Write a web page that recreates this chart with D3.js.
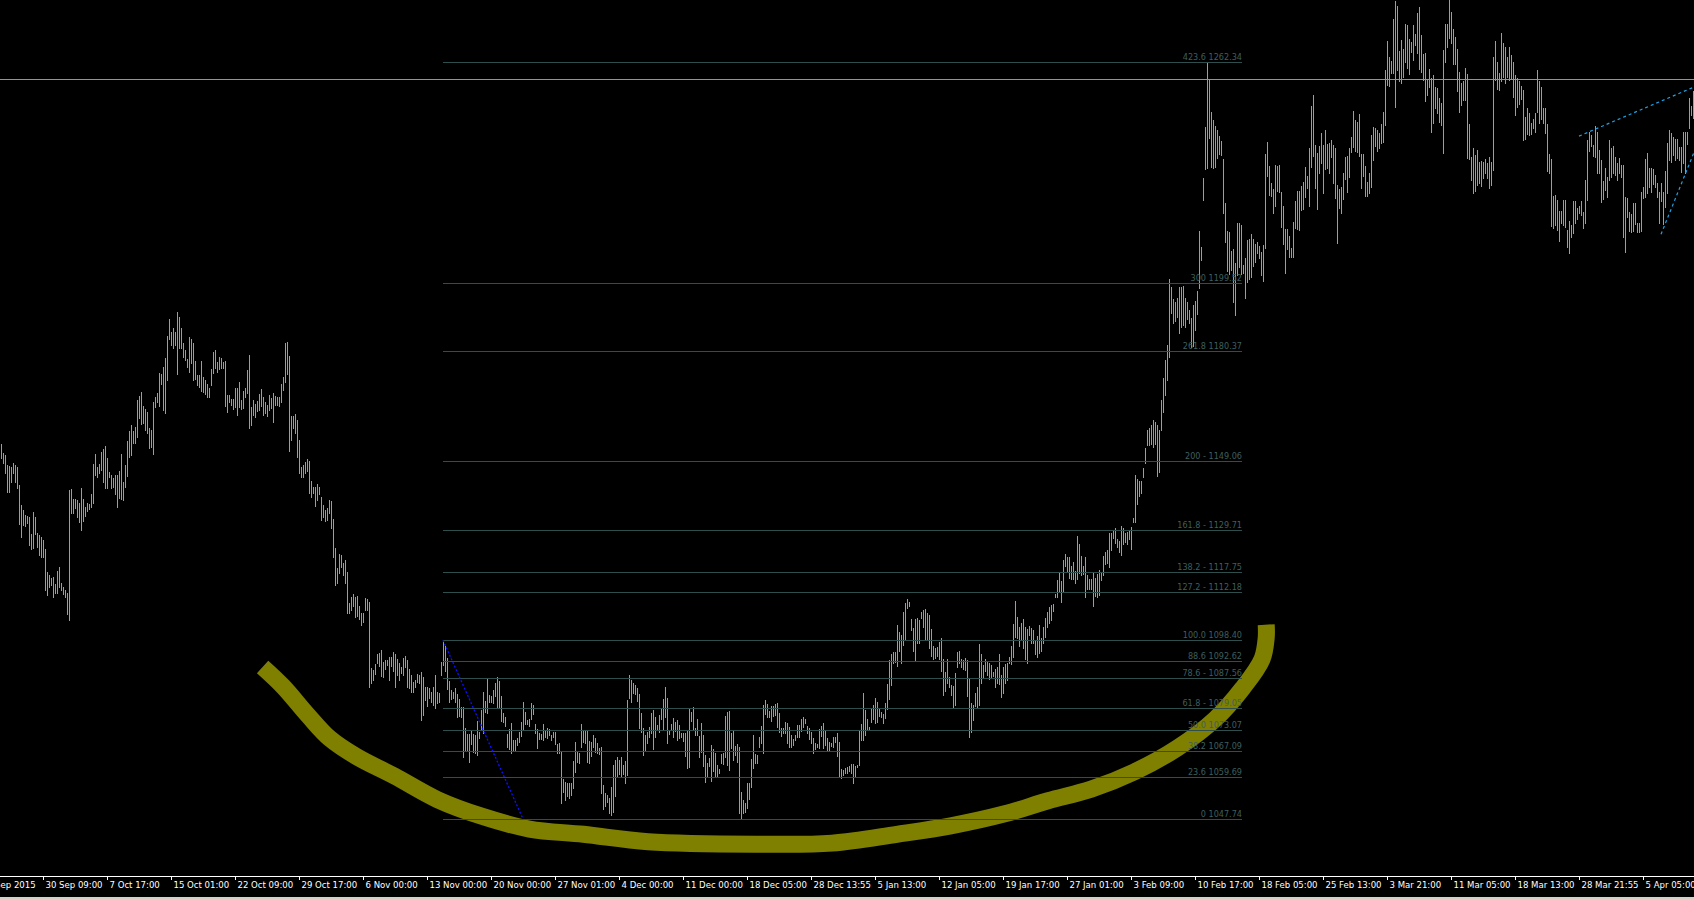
<!DOCTYPE html>
<html>
<head>
<meta charset="utf-8">
<script src="https://cdn.jsdelivr.net/npm/d3@7"></script>
<style>
  body { margin: 0; background: #000; overflow: hidden; }
  svg { display: block; }
</style>
</head>
<body>
<svg id="chart"></svg>
<script>
// H4 bars, one high/low pair per bar
const highs = [
  1153.9,1151.4,1150.8,1148.0,1147.7,1147.4,1148.5,1148.0,1147.4,1142.3,
  1136.6,1135.2,1133.8,1133.5,1133.2,1128.4,1134.6,1133.2,1128.9,1128.1,
  1127.5,1126.7,1124.2,1117.6,1116.8,1115.9,1116.2,1114.2,1117.9,1119.0,
  1114.5,1113.6,1112.5,1111.9,1140.9,1141.1,1138.3,1138.3,1138.0,1137.2,
  1141.4,1138.3,1136.0,1137.4,1136.9,1139.7,1148.2,1151.1,1147.4,1148.2,
  1151.6,1152.7,1153.3,1149.9,1146.0,1145.1,1144.3,1145.1,1145.1,1146.2,
  1151.1,1143.1,1148.0,1154.7,1157.6,1159.3,1157.6,1158.7,1166.4,1167.5,
  1168.6,1164.7,1163.8,1163.0,1158.4,1157.9,1165.8,1167.2,1168.3,1174.0,
  1173.7,1175.7,1178.3,1184.5,1189.3,1185.6,1186.8,1185.6,1191.3,1189.9,
  1186.8,1182.5,1180.5,1178.0,1184.2,1183.7,1182.5,1177.4,1173.4,1173.4,
  1177.4,1172.9,1172.0,1170.9,1169.8,1175.1,1180.0,1180.5,1177.1,1178.6,
  1178.3,1177.1,1177.4,1167.8,1167.8,1166.7,1166.7,1169.8,1169.8,1171.5,
  1166.4,1168.9,1169.8,1174.9,1179.1,1164.4,1166.4,1165.2,1166.1,1168.1,
  1169.5,1167.2,1165.8,1164.9,1167.8,1167.0,1168.4,1167.5,1167.2,1167.2,
  1170.9,1172.9,1182.5,1182.8,1178.8,1161.8,1161.8,1162.4,1160.7,1155.0,
  1147.4,1148.0,1148.8,1149.6,1149.1,1143.4,1141.7,1141.7,1142.6,1141.7,
  1138.9,1136.6,1135.2,1135.8,1138.0,1137.7,1132.6,1124.4,1118.8,1122.7,
  1122.5,1120.2,1121.0,1117.6,1108.9,1110.5,1111.4,1110.5,1110.8,1108.0,
  1106.0,1106.0,1110.3,1110.0,1109.1,1090.4,1089.9,1091.6,1094.4,1094.7,
  1095.5,1092.1,1092.7,1092.7,1093.6,1093.6,1095.0,1094.4,1093.0,1091.9,
  1090.7,1093.3,1093.8,1092.7,1090.2,1088.5,1086.5,1087.0,1088.7,1088.5,
  1089.3,1087.9,1085.1,1085.1,1084.8,1083.6,1085.1,1088.5,1083.6,1083.4,
  1092.1,1098.4,1096.7,1093.3,1086.8,1084.2,1083.6,1084.8,1083.1,1081.7,
  1079.4,1079.4,1073.4,1071.7,1071.7,1072.6,1071.7,1071.5,1075.4,1072.3,
  1078.5,1083.6,1081.1,1087.3,1082.8,1082.5,1084.2,1086.2,1087.9,1086.8,
  1082.5,1077.7,1076.6,1071.7,1073.2,1074.9,1070.0,1070.0,1070.6,1072.3,
  1075.1,1080.8,1078.0,1075.7,1076.0,1080.5,1080.0,1074.6,1073.2,1072.0,
  1071.7,1074.6,1072.9,1073.4,1073.2,1071.5,1072.3,1072.3,1068.9,1069.2,
  1066.6,1059.0,1058.1,1057.9,1057.9,1057.9,1064.1,1069.5,1066.6,1066.4,
  1074.6,1072.6,1072.9,1072.6,1069.8,1069.5,1071.5,1070.6,1069.2,1067.8,
  1068.1,1057.3,1055.0,1054.5,1053.6,1056.7,1062.9,1064.4,1065.2,1064.4,
  1065.2,1062.9,1064.1,1081.4,1088.5,1087.0,1086.2,1085.6,1084.8,1083.1,
  1077.7,1073.4,1071.5,1072.3,1073.7,1077.7,1078.5,1076.6,1074.3,1077.1,
  1078.8,1081.7,1085.1,1081.9,1072.9,1074.6,1076.3,1075.1,1075.7,1074.3,
  1072.0,1072.0,1072.0,1072.9,1079.1,1078.0,1079.4,1073.4,1076.0,1071.2,
  1074.9,1071.5,1065.8,1063.5,1064.9,1068.6,1067.5,1066.4,1062.9,1061.8,
  1066.1,1066.4,1076.8,1078.0,1078.3,1072.0,1072.6,1068.4,1068.9,1068.1,
  1055.3,1053.0,1052.2,1057.9,1057.9,1064.6,1071.5,1066.1,1065.8,1070.9,
  1074.0,1080.0,1081.4,1080.2,1078.3,1079.7,1079.7,1080.2,1080.5,1077.7,
  1073.4,1073.4,1075.1,1074.9,1073.7,1071.5,1070.3,1071.5,1074.3,1074.3,
  1076.0,1076.6,1076.0,1074.0,1073.4,1072.3,1070.6,1069.2,1068.9,1073.2,
  1074.0,1074.9,1072.9,1070.6,1069.5,1069.2,1070.9,1070.9,1072.0,1069.5,
  1061.8,1061.5,1062.1,1062.4,1062.7,1063.2,1063.2,1062.7,1062.9,1072.9,
  1074.6,1083.3,1078.5,1076.0,1073.7,1078.8,1080.0,1081.9,1080.8,1078.8,
  1078.0,1077.4,1080.5,1085.9,1092.7,1094.4,1095.0,1095.0,1102.6,1100.6,
  1099.8,1106.3,1108.9,1110.0,1109.1,1104.3,1101.8,1104.3,1104.6,1104.0,
  1106.3,1106.9,1107.2,1106.0,1105.5,1101.5,1096.7,1096.1,1096.4,1097.8,
  1098.9,1093.0,1089.3,1093.0,1087.9,1085.6,1085.3,1089.0,1095.0,1095.3,
  1093.0,1092.7,1093.3,1092.7,1087.6,1080.5,1080.0,1083.4,1085.1,1097.2,
  1094.4,1091.3,1093.0,1092.1,1091.9,1091.3,1089.3,1090.2,1090.7,1094.4,
  1088.5,1090.7,1091.6,1091.9,1093.6,1096.7,1102.9,1109.4,1104.9,1102.1,
  1103.2,1104.3,1102.1,1101.5,1102.4,1101.8,1101.2,1098.4,1099.5,1102.6,
  1099.0,1102.1,1104.6,1106.3,1107.7,1108.3,1108.6,1111.4,1115.4,1117.3,
  1115.1,1121.0,1122.7,1121.9,1121.9,1119.3,1120.5,1117.9,1127.8,1125.6,
  1122.2,1119.3,1121.9,1116.8,1115.6,1115.6,1117.6,1116.0,1117.1,1118.2,
  1117.6,1122.2,1123.3,1123.9,1128.7,1128.7,1129.3,1130.1,1127.0,1126.4,
  1130.7,1130.1,1128.7,1129.0,1129.3,1130.4,1132.9,1145.1,1144.0,1143.4,
  1143.4,1147.1,1152.8,1157.9,1158.4,1159.3,1160.7,1160.1,1159.3,1157.9,
  1166.4,1172.6,1177.7,1182.0,1200.7,1198.4,1195.0,1194.1,1195.3,1198.4,
  1198.4,1198.7,1195.3,1194.1,1191.9,1189.6,1193.3,1194.4,1197.3,1214.3,
  1209.7,1229.3,1243.7,1262.3,1257.3,1248.0,1245.7,1244.0,1242.9,1241.2,
  1239.7,1234.7,1222.2,1214.3,1214.0,1208.6,1209.1,1205.2,1216.5,1216.5,
  1215.9,1204.6,1206.6,1211.7,1212.0,1213.4,1212.0,1210.6,1211.1,1210.0,
  1208.3,1210.3,1236.1,1239.5,1232.7,1227.9,1226.2,1233.0,1232.7,1233.0,
  1225.3,1221.3,1214.8,1214.8,1212.8,1209.4,1216.8,1222.8,1225.6,1225.6,
  1227.0,1228.1,1232.4,1229.8,1237.8,1249.7,1252.8,1238.6,1236.4,1238.3,
  1242.0,1238.6,1242.9,1238.9,1239.2,1240.0,1238.6,1237.8,1227.3,1226.1,
  1226.7,1230.7,1235.2,1235.5,1237.8,1240.9,1248.3,1245.7,1245.1,1247.4,
  1236.1,1236.1,1232.7,1228.1,1230.7,1241.5,1243.7,1243.4,1242.9,1242.0,
  1244.6,1248.0,1259.9,1268.1,1263.5,1262.4,1274.3,1279.4,1278.0,1265.2,
  1268.4,1265.8,1272.9,1272.6,1268.6,1267.8,1272.6,1270.1,1276.0,1277.7,
  1269.8,1264.4,1264.7,1257.3,1260.1,1257.6,1258.4,1255.0,1254.8,1251.9,
  1250.5,1265.5,1272.9,1272.9,1281.0,1276.3,1271.5,1269.2,1265.8,1259.3,
  1256.2,1256.8,1260.4,1258.7,1244.6,1235.2,1237.8,1235.8,1237.2,1233.8,
  1234.1,1233.8,1234.7,1233.5,1235.2,1233.8,1263.5,1268.1,1262.1,1259.0,
  1270.3,1267.5,1266.4,1263.5,1266.4,1264.1,1262.1,1258.4,1257.6,1256.8,
  1255.3,1254.2,1246.5,1249.1,1247.7,1244.8,1246.0,1247.7,1259.9,1256.8,
  1255.0,1249.1,1249.1,1244.6,1236.1,1234.7,1224.2,1224.5,1223.0,1219.9,
  1219.9,1223.0,1223.0,1214.5,1217.1,1215.9,1222.8,1222.8,1220.8,1221.3,
  1222.8,1219.6,1228.7,1240.0,1242.3,1241.5,1238.6,1244.0,1242.3,1237.2,
  1234.4,1228.4,1232.1,1229.6,1240.0,1237.8,1238.3,1235.2,1233.5,1234.9,
  1232.9,1232.9,1223.9,1223.6,1219.6,1219.1,1222.2,1222.2,1216.5,1216.5,
  1225.3,1226.7,1234.7,1236.4,1232.1,1232.1,1231.8,1230.1,1227.9,1225.3,
  1227.9,1225.3,1231.2,1239.2,1242.9,1242.0,1240.9,1240.3,1240.3,1238.1,
  1238.1,1242.3,1242.3,1242.3,1251.9,1249.7,1253.9
];

const lows = [
  1149.9,1148.5,1145.7,1140.3,1140.3,1143.1,1145.7,1143.1,1141.4,1131.3,
  1127.5,1130.9,1130.7,1131.5,1125.3,1124.2,1124.5,1128.6,1124.7,1122.5,
  1121.9,1121.9,1112.5,1111.1,1113.6,1113.9,1110.5,1111.7,1111.9,1113.4,
  1112.5,1111.4,1110.5,1105.8,1104.0,1134.3,1134.3,1135.8,1133.2,1131.8,
  1129.5,1132.1,1133.5,1134.9,1135.5,1136.0,1137.2,1145.1,1144.5,1145.7,
  1146.5,1143.1,1141.4,1141.4,1144.5,1141.4,1141.7,1139.7,1136.0,1138.6,
  1138.3,1138.0,1141.7,1144.8,1150.2,1150.8,1154.2,1154.2,1155.9,1161.3,
  1159.6,1159.9,1157.9,1157.0,1152.8,1153.0,1151.1,1164.4,1165.8,1164.7,
  1170.9,1163.5,1162.7,1172.0,1183.7,1182.0,1181.1,1182.0,1173.7,1181.1,
  1181.1,1178.6,1177.7,1175.7,1174.3,1176.8,1172.0,1172.3,1170.6,1170.0,
  1168.9,1168.6,1168.1,1167.2,1167.2,1170.6,1174.0,1175.4,1174.3,1175.1,
  1175.4,1175.4,1164.7,1163.0,1165.8,1165.0,1163.8,1164.4,1162.1,1164.4,
  1163.8,1164.1,1167.2,1168.3,1158.4,1159.3,1162.1,1161.5,1163.3,1163.5,
  1164.7,1162.1,1162.7,1161.8,1163.5,1164.1,1160.1,1165.0,1165.0,1164.7,
  1165.8,1169.2,1171.5,1173.7,1151.9,1155.0,1158.4,1157.0,1150.2,1145.7,
  1144.5,1144.5,1145.7,1146.2,1140.0,1138.9,1140.0,1136.3,1138.0,1139.7,
  1132.4,1133.2,1132.1,1132.4,1134.3,1130.1,1122.1,1113.9,1114.5,1117.3,
  1119.1,1116.8,1114.5,1106.0,1106.0,1106.9,1108.0,1104.9,1105.2,1104.3,
  1102.6,1103.5,1106.9,1106.9,1085.1,1086.2,1087.0,1088.7,1091.9,1091.0,
  1088.2,1087.9,1090.1,1091.3,1087.0,1091.0,1089.6,1085.1,1088.5,1087.0,
  1089.0,1088.5,1090.7,1085.1,1084.8,1083.6,1083.6,1085.1,1086.5,1086.2,
  1075.7,1077.1,1081.4,1079.7,1082.0,1080.8,1080.0,1079.1,1080.5,1080.8,
  1088.5,1091.3,1089.6,1084.5,1080.8,1081.7,1082.0,1080.8,1076.6,1076.8,
  1076.6,1065.2,1067.2,1067.2,1063.8,1068.9,1066.6,1066.4,1065.8,1070.6,
  1072.9,1072.0,1078.0,1077.7,1080.8,1080.8,1080.5,1082.5,1079.1,1079.4,
  1075.4,1075.1,1074.0,1068.1,1067.5,1066.4,1066.9,1066.9,1068.6,1069.5,
  1071.2,1072.9,1074.6,1074.6,1074.0,1076.0,1077.4,1072.0,1067.8,1070.3,
  1070.3,1070.0,1070.9,1070.6,1071.5,1070.0,1070.9,1068.9,1066.4,1066.4,
  1052.2,1055.3,1053.0,1054.2,1053.6,1054.5,1056.4,1061.0,1063.8,1063.5,
  1068.1,1069.5,1069.2,1063.8,1063.5,1065.5,1068.1,1066.6,1066.4,1066.1,
  1055.0,1050.5,1051.3,1052.5,1049.4,1048.8,1049.6,1054.2,1059.6,1060.4,
  1059.6,1060.4,1057.9,1060.1,1081.9,1080.8,1083.4,1083.1,1081.1,1073.4,
  1072.3,1065.8,1066.9,1069.2,1070.9,1072.0,1067.5,1070.9,1073.2,1072.3,
  1076.0,1072.9,1076.6,1069.2,1071.7,1072.9,1070.9,1072.6,1070.0,1070.6,
  1070.9,1069.8,1065.5,1062.1,1062.4,1075.4,1073.2,1071.5,1071.5,1065.2,
  1066.6,1062.7,1058.1,1059.6,1062.7,1058.4,1061.3,1059.6,1059.6,1060.7,
  1063.5,1063.2,1065.2,1062.9,1061.5,1067.8,1064.4,1065.8,1063.8,1049.4,
  1048.0,1049.4,1049.6,1050.8,1053.3,1056.7,1062.1,1063.5,1063.5,1068.1,
  1069.2,1066.4,1077.4,1076.6,1076.6,1075.4,1076.8,1077.1,1073.7,1072.3,
  1071.2,1072.0,1072.0,1069.2,1068.1,1068.1,1068.6,1070.0,1070.9,1070.9,
  1072.6,1073.7,1074.9,1072.0,1070.3,1069.2,1066.4,1067.5,1068.1,1067.8,
  1071.2,1067.8,1068.6,1066.9,1066.9,1068.4,1068.1,1069.5,1065.5,1059.8,
  1059.3,1060.1,1060.7,1060.7,1061.3,1060.7,1057.9,1059.8,1062.4,1062.9,
  1070.0,1070.0,1071.5,1073.2,1073.2,1075.1,1076.0,1074.9,1075.1,1076.8,
  1076.6,1074.9,1076.3,1078.8,1081.7,1085.6,1091.9,1092.1,1091.0,1095.3,
  1091.9,1097.0,1098.7,1107.4,1108.0,1101.2,1095.3,1092.4,1097.5,1097.5,
  1104.6,1102.1,1098.4,1098.4,1096.1,1093.8,1093.0,1093.3,1093.8,1093.0,
  1089.6,1082.8,1083.9,1086.2,1085.1,1082.8,1079.4,1080.0,1090.7,1091.9,
  1090.7,1090.2,1089.9,1082.5,1070.9,1072.3,1075.7,1079.7,1079.4,1080.0,
  1086.2,1087.9,1089.6,1088.5,1087.3,1087.9,1088.2,1085.1,1086.2,1085.9,
  1082.2,1083.4,1086.2,1087.0,1091.9,1091.6,1093.6,1099.2,1099.0,1096.7,
  1098.4,1096.1,1093.0,1091.9,1099.8,1097.5,1097.5,1094.4,1093.6,1094.7,
  1095.3,1097.5,1099.2,1102.1,1103.2,1104.0,1106.6,1110.5,1110.5,1112.2,
  1109.1,1112.2,1119.3,1117.6,1115.9,1115.6,1115.6,1114.5,1115.6,1117.3,
  1116.8,1117.1,1110.5,1112.8,1112.8,1112.8,1108.0,1110.8,1110.5,1111.1,
  1115.4,1116.8,1119.9,1120.2,1119.1,1123.9,1127.3,1125.9,1124.7,1123.3,
  1122.5,1125.6,1126.1,1125.6,1127.0,1124.2,1131.8,1131.8,1136.9,1139.2,
  1140.0,1144.5,1148.5,1153.6,1153.6,1153.9,1153.0,1153.9,1144.8,1146.0,
  1157.9,1163.0,1167.8,1172.0,1178.6,1191.0,1188.2,1188.7,1189.9,1185.4,
  1187.1,1187.6,1187.1,1189.3,1188.2,1181.4,1181.7,1186.2,1190.7,1198.1,
  1206.0,1223.0,1231.8,1232.1,1240.6,1232.4,1232.1,1232.4,1234.9,1236.1,
  1235.8,1219.4,1211.1,1202.9,1202.1,1203.2,1194.1,1190.5,1201.8,1204.0,
  1202.1,1202.4,1195.3,1199.8,1200.7,1201.2,1204.3,1205.5,1208.0,1206.6,
  1201.8,1200.1,1209.4,1229.8,1224.5,1224.2,1219.4,1221.3,1225.6,1225.3,
  1215.4,1210.6,1202.4,1209.1,1206.9,1206.9,1206.9,1215.1,1214.8,1214.5,
  1220.2,1220.5,1223.9,1226.4,1221.3,1232.4,1235.5,1226.4,1220.5,1230.7,
  1233.5,1225.0,1231.8,1232.1,1230.7,1235.2,1227.9,1223.6,1210.8,1220.8,
  1219.4,1223.3,1229.0,1225.3,1229.6,1236.6,1238.1,1236.9,1236.6,1235.5,
  1226.4,1229.8,1224.2,1224.2,1225.0,1226.7,1234.4,1238.3,1236.9,1237.8,
  1239.2,1239.5,1244.3,1255.6,1255.3,1259.0,1259.0,1249.4,1259.9,1256.8,
  1256.2,1257.9,1262.1,1260.4,1258.7,1265.0,1262.7,1267.0,1264.7,1260.1,
  1259.3,1257.0,1251.1,1252.8,1255.0,1242.3,1244.8,1249.1,1247.7,1245.1,
  1244.3,1236.4,1262.1,1266.4,1269.0,1267.5,1261.6,1261.6,1253.9,1248.0,
  1249.9,1251.4,1251.4,1234.9,1234.7,1228.7,1225.0,1225.6,1227.3,1227.9,
  1227.0,1229.3,1230.7,1229.3,1226.4,1227.3,1231.5,1257.0,1254.5,1254.2,
  1256.8,1257.9,1256.2,1257.9,1257.0,1257.6,1252.2,1247.1,1249.4,1250.2,
  1251.7,1240.0,1240.3,1241.7,1241.5,1241.7,1243.4,1242.3,1248.0,1244.8,
  1246.0,1244.8,1242.0,1231.2,1230.7,1215.7,1215.1,1216.0,1214.5,1211.4,
  1216.5,1216.0,1215.4,1209.7,1208.0,1212.5,1213.7,1216.5,1217.6,1219.4,
  1218.8,1215.1,1216.5,1223.0,1236.9,1238.3,1235.5,1235.2,1230.7,1230.7,
  1222.5,1223.3,1225.9,1223.9,1228.7,1229.6,1230.7,1230.1,1228.7,1230.7,
  1229.6,1212.6,1208.3,1218.2,1214.3,1214.0,1214.3,1216.2,1214.0,1214.0,
  1214.3,1223.6,1223.9,1225.0,1226.7,1225.3,1227.6,1226.7,1223.9,1216.5,
  1222.8,1216.2,1221.1,1225.0,1234.4,1233.8,1235.8,1234.4,1234.9,1234.4,
  1231.0,1233.5,1230.7,1238.9,1243.4,1247.1,1246.3
];

const tickLabels = [
  "23 Sep 2015", "30 Sep 09:00", "7 Oct 17:00", "15 Oct 01:00", "22 Oct 09:00",
  "29 Oct 17:00", "6 Nov 00:00", "13 Nov 00:00", "20 Nov 00:00", "27 Nov 01:00",
  "4 Dec 00:00", "11 Dec 00:00", "18 Dec 05:00", "28 Dec 13:55", "5 Jan 13:00",
  "12 Jan 05:00", "19 Jan 17:00", "27 Jan 01:00", "3 Feb 09:00", "10 Feb 17:00",
  "18 Feb 05:00", "25 Feb 13:00", "3 Mar 21:00", "11 Mar 05:00", "18 Mar 13:00",
  "28 Mar 21:55", "5 Apr 05:00"
];
const tickBars = tickLabels.map((d, k) => -11 + 32 * k); // a label every 32 bars

// fibonacci expansion drawn from the 13 Nov high down to the low
const fibLevels = [1047.74, 1059.69, 1067.09, 1073.07, 1079.05, 1087.56, 1092.62, 1098.40,
  1112.18, 1117.75, 1129.71, 1149.06, 1180.37, 1199.52, 1262.34];
const fibLabels = ["0 1047.74", "23.6 1059.69", "38.2 1067.09", "50.0 1073.07", "61.8 - 1079.05",
  "78.6 - 1087.56", "88.6 1092.62", "100.0 1098.40", "127.2 - 1112.18", "138.2 - 1117.75",
  "161.8 -  1129.71", "200 - 1149.06", "261.8 1180.37", "300 1199.52", "423.6 1262.34"];
const fibSpan = [221, 620.5];                   // bar index where the levels start / stop
const fibTrend = [[221, 1098.40], [261, 1047.74]];

const priceLine = 1257.5;
const upperTrend = [[789, 1241.2], [846.5, 1255.1]];
const lowerTrend = [[830, 1213.4], [846.5, 1236.6]];

// hand drawn "cup" under the base (bar index, price)
const cupPoints = [
  [130.8, 1090.8], [141, 1085.3], [153.5, 1077.1], [164.3, 1070.6], [177.8, 1065.4],
  [196.7, 1059.9], [218.3, 1053.2], [239.9, 1048.6], [264.2, 1044.9], [291.2, 1043.4],
  [323.6, 1041.3], [377.6, 1040.6], [415.5, 1040.9], [447.9, 1043.4], [474.9, 1045.8],
  [501.9, 1049.2], [523.5, 1052.9], [545.1, 1056.2], [566.7, 1061.1], [588.3, 1067.9],
  [607.2, 1076.1], [620.7, 1084.7], [630.5, 1093.0], [632.6, 1099.1], [632.6, 1102.8]
];

const dimensions = { width: 1694, height: 899, axisY: 876 };
const labelFont = "'DejaVu Sans Condensed', 'Liberation Sans Narrow', sans-serif";

function getScales() {
  const xScale = d3.scaleLinear()
    .domain([0, highs.length - 1])
    .range([1, 1 + 2 * (highs.length - 1)]); // 2px per bar

  const yScale = d3.scaleLinear()
    .domain([1047.74, 1262.34])
    .range([819, 61.5]);

  return { xScale, yScale };
}

function drawCup(svg, scales) {
  const { xScale, yScale } = scales;
  const line = d3.line()
    .x(d => xScale(d[0]))
    .y(d => yScale(d[1]))
    .curve(d3.curveCatmullRom);

  svg.append("path")
    .datum(cupPoints)
    .attr("d", line)
    .attr("fill", "none")
    .attr("stroke", "#808000")
    .attr("stroke-width", 17)
    .attr("stroke-linecap", "butt");
}

function drawBars(svg, scales) {
  const { xScale, yScale } = scales;
  svg.append("g")
    .attr("shape-rendering", "crispEdges")
    .selectAll("line")
    .data(highs)
    .join("line")
    .attr("x1", (d, i) => Math.round(xScale(i)) + 0.5)
    .attr("x2", (d, i) => Math.round(xScale(i)) + 0.5)
    .attr("y1", d => Math.round(yScale(d)))
    .attr("y2", (d, i) => Math.round(yScale(lows[i])) + 1)
    .attr("stroke", "#26f026")
    .attr("stroke-width", 1);
}

function drawFib(svg, scales) {
  const { xScale, yScale } = scales;
  const g = svg.append("g");

  g.selectAll("line")
    .data(fibLevels)
    .join("line")
    .attr("x1", xScale(fibSpan[0]))
    .attr("x2", xScale(fibSpan[1]))
    .attr("y1", d => Math.round(yScale(d)) + 0.5)
    .attr("y2", d => Math.round(yScale(d)) + 0.5)
    .attr("stroke", "#2f4f4f")
    .attr("stroke-width", 1);

  g.selectAll("text")
    .data(fibLevels)
    .join("text")
    .attr("x", xScale(fibSpan[1]))
    .attr("y", d => Math.round(yScale(d)) - 2)
    .attr("text-anchor", "end")
    .attr("fill", "#3d5f5f")
    .style("font-family", labelFont)
    .style("font-size", "9px")
    .text((d, i) => fibLabels[i]);

  // dotted base line of the expansion
  svg.append("line")
    .attr("x1", xScale(fibTrend[0][0])).attr("y1", yScale(fibTrend[0][1]))
    .attr("x2", xScale(fibTrend[1][0])).attr("y2", yScale(fibTrend[1][1]))
    .attr("stroke", "#1010ff")
    .attr("stroke-width", 1.3)
    .attr("stroke-dasharray", "2,2");
}

function drawLines(svg, scales) {
  const { xScale, yScale } = scales;

  svg.append("line")
    .attr("x1", 0).attr("x2", dimensions.width)
    .attr("y1", Math.round(yScale(priceLine)) + 0.5)
    .attr("y2", Math.round(yScale(priceLine)) + 0.5)
    .attr("stroke", "#8797a8")
    .attr("stroke-width", 1);

  [upperTrend, lowerTrend].forEach(t => {
    svg.append("line")
      .attr("x1", xScale(t[0][0])).attr("y1", yScale(t[0][1]))
      .attr("x2", xScale(t[1][0])).attr("y2", yScale(t[1][1]))
      .attr("stroke", "#1ea2e6")
      .attr("stroke-width", 1.2)
      .attr("stroke-dasharray", "3,3");
  });
}

function drawAxis(svg, scales) {
  const { xScale } = scales;

  const axisX = d3.axisBottom(xScale)
    .tickValues(tickBars)
    .tickSize(4)
    .tickSizeOuter(0)
    .tickFormat((d, i) => tickLabels[i]);

  const g = svg.append("g")
    .attr("transform", `translate(0, ${dimensions.axisY})`)
    .call(axisX);

  g.select(".domain").remove();
  g.selectAll(".tick line").attr("stroke", "#ffffff");
  g.selectAll(".tick text")
    .attr("fill", "#ffffff")
    .attr("text-anchor", "start")
    .attr("x", 2)
    .attr("y", 5)
    .style("font-family", labelFont)
    .style("font-size", "9.5px");

  svg.append("line")
    .attr("x1", 0).attr("x2", dimensions.width)
    .attr("y1", dimensions.axisY + 0.5).attr("y2", dimensions.axisY + 0.5)
    .attr("stroke", "#ffffff");

  // window frame at the very bottom
  svg.append("rect")
    .attr("x", 0).attr("y", dimensions.height - 2)
    .attr("width", dimensions.width).attr("height", 2)
    .attr("fill", "#d4d0c8");
}

function render() {
  const svg = d3.select("#chart")
    .attr("width", dimensions.width)
    .attr("height", dimensions.height)
    .style("background", "#000");

  const scales = getScales();
  drawCup(svg, scales);
  drawBars(svg, scales);
  drawFib(svg, scales);
  drawLines(svg, scales);
  drawAxis(svg, scales);
}

render();
</script>
</body>
</html>
